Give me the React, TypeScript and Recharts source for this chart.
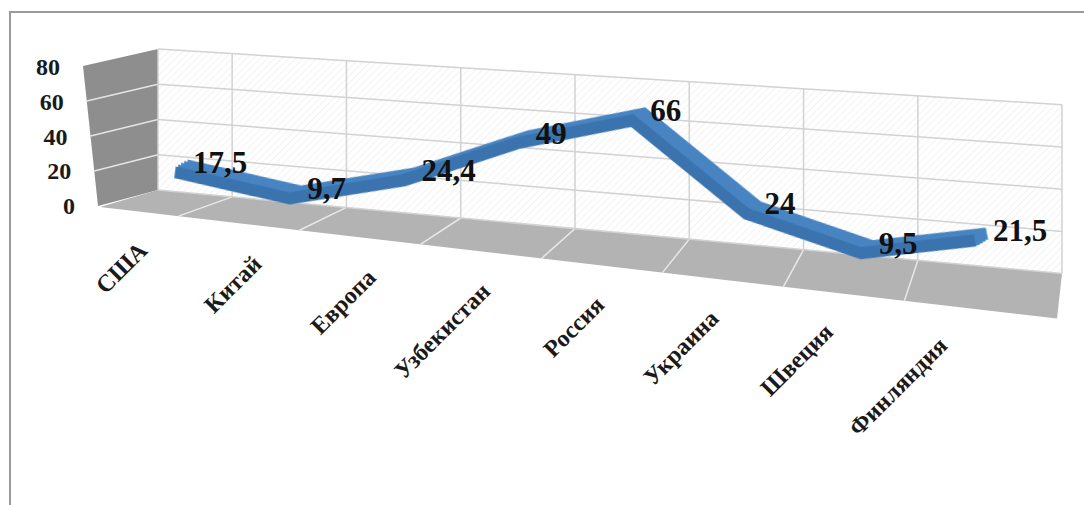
import React from 'react'
import { LineChart, Line, XAxis, YAxis, CartesianGrid, LabelList } from 'recharts'

const countries = ['США', 'Китай', 'Европа', 'Узбекистан', 'Россия', 'Украина', 'Швеция', 'Финляндия']
const shares = [17.5, 9.7, 24.4, 49, 66, 24, 9.5, 21.5]
const yTicks = [0, 20, 40, 60, 80]

const data = countries.map((name, i) => ({ name, value: shares[i] }))

// chart box
const W = 1084
const H = 505
const PLOT_LEFT = 158
const PLOT_RIGHT = 1062
const PLOT_TOP = 48
const PLOT_BOTTOM = 205
const X_PAD = { left: 17, right: 87 }
const Y_MAX = 80
// the ribbon plane falls to the right (excel 3d view)
const SKEW = 0.095
// tick labels sit on the front edge of the side wall, which is a bit shorter
const LABEL_SCALE = (PLOT_BOTTOM - 66) / (PLOT_BOTTOM - PLOT_TOP)

const SERIF = "'Liberation Serif', 'Times New Roman', serif"
const BLUE = '#3a73ae'
const BLUE_TOP = '#4884c2'

// back wall and floor in perspective
const wallTop = (x: number) => 49 + 0.0616 * (x - PLOT_LEFT)
const wallBase = (x: number) => 190 + 0.0925 * (x - PLOT_LEFT)
const wallY = (x: number, v: number) => wallBase(x) - (v / Y_MAX) * (wallBase(x) - wallTop(x))
const floorDepth = (x: number) => {
    const t = (x - PLOT_LEFT) / (PLOT_RIGHT - PLOT_LEFT)
    return [-58 + 53 * t, 17 + 28 * t]
}
const sideFront = (v: number) => [98 - 15 * (v / Y_MAX), 206 - 140 * (v / Y_MAX)]

const step = (PLOT_RIGHT - X_PAD.right - PLOT_LEFT - X_PAD.left) / (countries.length - 1)
const gridXs = [
    PLOT_LEFT,
    ...countries.slice(1).map((_, i) => PLOT_LEFT + X_PAD.left + step * (i + 0.5)),
    PLOT_RIGHT,
]
const valueToY = (v: number) => PLOT_BOTTOM - (v / Y_MAX) * (PLOT_BOTTOM - PLOT_TOP)

const fmt = (v: number) => String(v).replace('.', ',')

function Frame3D() {
    const b0 = wallBase(PLOT_LEFT)
    const b1 = wallBase(PLOT_RIGHT)
    const [dx0, dy0] = floorDepth(PLOT_LEFT)
    const [dx1, dy1] = floorDepth(PLOT_RIGHT)
    const [fx0, fy0] = sideFront(0)
    const [fx8, fy8] = sideFront(Y_MAX)
    return (
        <svg width={W} height={H} style={{ position: 'absolute', left: 0, top: 0 }}>
            <defs>
                <pattern id="hatch" patternUnits="userSpaceOnUse" width="5" height="5" patternTransform="rotate(45)">
                    <rect width="5" height="5" fill="#ffffff" />
                    <line x1="0" y1="0" x2="0" y2="5" stroke="#ececec" strokeWidth="1.2" />
                </pattern>
            </defs>
            <polygon
                points={`${PLOT_LEFT},${wallTop(PLOT_LEFT)} ${PLOT_RIGHT},${wallTop(PLOT_RIGHT)} ${PLOT_RIGHT},${b1} ${PLOT_LEFT},${b0}`}
                fill="url(#hatch)"
            />
            <polygon
                points={`${fx8},${fy8} ${PLOT_LEFT},${wallTop(PLOT_LEFT)} ${PLOT_LEFT},${b0} ${fx0},${fy0}`}
                fill="#8e8e8e"
            />
            {yTicks.slice(1, -1).map((v) => {
                const [fx, fy] = sideFront(v)
                return <line key={v} x1={fx} y1={fy} x2={PLOT_LEFT} y2={wallY(PLOT_LEFT, v)} stroke="#e4e4e4" strokeWidth={1.5} />
            })}
            <polygon
                points={`${PLOT_LEFT},${b0} ${PLOT_RIGHT},${b1} ${PLOT_RIGHT + dx1},${b1 + dy1} ${PLOT_LEFT + dx0},${b0 + dy0}`}
                fill="#b3b3b3"
            />
            {gridXs.slice(1, -1).map((gx) => {
                const [dx, dy] = floorDepth(gx)
                return <line key={gx} x1={gx} y1={wallBase(gx)} x2={gx + dx} y2={wallBase(gx) + dy} stroke="#e8e8e8" strokeWidth={1.5} />
            })}
        </svg>
    )
}

const renderHLine = (p: any) => {
    const v = ((PLOT_BOTTOM - p.y1) / (PLOT_BOTTOM - PLOT_TOP)) * Y_MAX
    return (
        <line
            key={`h-${p.index}`}
            x1={PLOT_LEFT}
            y1={wallY(PLOT_LEFT, v)}
            x2={PLOT_RIGHT}
            y2={wallY(PLOT_RIGHT, v)}
            stroke="#d2d2d2"
            strokeWidth={1.5}
        />
    )
}

const renderVLine = (p: any) => (
    <line
        key={`v-${p.index}`}
        x1={p.x1}
        y1={wallTop(p.x1)}
        x2={p.x1}
        y2={wallBase(p.x1)}
        stroke="#d2d2d2"
        strokeWidth={1.5}
    />
)

function YTick({ y, payload }: any) {
    const [fx] = sideFront(payload.value)
    const ys = PLOT_BOTTOM - (PLOT_BOTTOM - y) * LABEL_SCALE
    return (
        <text x={fx - 23} y={ys + 1} textAnchor="end" dominantBaseline="central"
            fontFamily={SERIF} fontWeight="bold" fontSize={24} fill="#1a1a1a">
            {payload.value}
        </text>
    )
}

function XTick({ x, payload }: any) {
    const xe = x - 32
    const ye = 246 + 0.119 * (xe - 141)
    return (
        <text x={xe} y={ye} textAnchor="end" dominantBaseline="central"
            transform={`rotate(-45 ${xe} ${ye})`}
            fontFamily={SERIF} fontWeight="bold" fontSize={24} fill="#1a1a1a">
            {payload.value}
        </text>
    )
}

function ValueLabel({ x, y, value }: any) {
    const ys = y + SKEW * (x - PLOT_LEFT)
    return (
        <text x={x + 18} y={ys - 10} textAnchor="start" dominantBaseline="central"
            fontFamily={SERIF} fontWeight="bold" fontSize={31} fill="#111">
            {fmt(value)}
        </text>
    )
}

export default function App() {
    const shadow = `drop-shadow(3px -2px 0 ${BLUE_TOP})`
    const css = `.c3d .recharts-line-curve{transform:matrix(1,${SKEW},0,1,0,${-SKEW * PLOT_LEFT});transform-origin:0 0;transform-box:view-box;filter:${shadow} ${shadow} ${shadow} ${shadow}}`
    return (
        <div className="c3d" style={{ position: 'fixed', left: 0, top: 0, width: W, height: H, overflow: 'hidden', background: '#fff' }}>
            <style>{css}</style>
            <div style={{
                position: 'absolute', left: 9, top: 11, right: -4, bottom: -4,
                borderTop: '2px solid #9a9a9a', borderLeft: '2px solid #9a9a9a',
            }} />
            <Frame3D />
            <div style={{ position: 'absolute', left: 0, top: 0 }}>
                <LineChart
                    width={W}
                    height={H}
                    data={data}
                    margin={{ top: PLOT_TOP, right: W - PLOT_RIGHT, bottom: H - PLOT_BOTTOM - 40, left: 0 }}
                >
                    <CartesianGrid
                        yAxisId="v"
                        horizontalPoints={yTicks.map(valueToY)}
                        verticalPoints={gridXs}
                        horizontal={renderHLine}
                        vertical={renderVLine}
                        fill="none"
                    />
                    <XAxis
                        dataKey="name"
                        padding={X_PAD}
                        height={40}
                        axisLine={false}
                        tickLine={false}
                        interval={0}
                        tick={<XTick />}
                    />
                    <YAxis
                        yAxisId="v"
                        domain={[0, Y_MAX]}
                        ticks={yTicks}
                        width={PLOT_LEFT}
                        axisLine={false}
                        tickLine={false}
                        tick={<YTick />}
                    />
                    <Line
                        yAxisId="v"
                        dataKey="value"
                        stroke={BLUE}
                        strokeWidth={12}
                        strokeLinejoin="miter"
                        strokeLinecap="butt"
                        dot={false}
                        activeDot={false}
                        isAnimationActive={false}
                    >
                        <LabelList dataKey="value" content={<ValueLabel />} />
                    </Line>
                </LineChart>
            </div>
        </div>
    )
}
